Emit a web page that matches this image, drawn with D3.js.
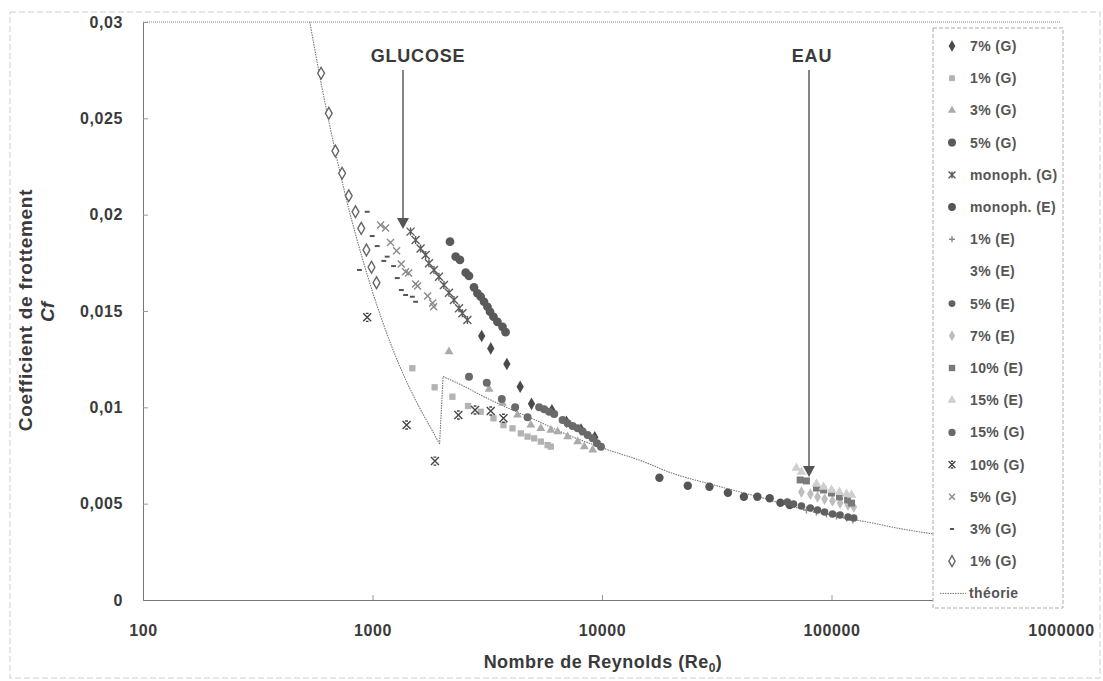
<!DOCTYPE html>
<html><head><meta charset="utf-8">
<script src="https://cdn.jsdelivr.net/npm/d3@7"></script>
<style>
body{margin:0;background:#fff;}
text{font-family:"Liberation Sans",Arial,sans-serif;font-weight:bold;}
</style></head>
<body><svg id="c" width="1103" height="681"></svg>
<script>
// ---------- data: [Reynolds, Cf] ----------
const xTicks = [100, 1000, 10000, 100000, 1000000];
const yTicks = [0, 0.005, 0.01, 0.015, 0.02, 0.025, 0.03];

const g7 = [[2990,0.0137],[3275,0.01306],[3850,0.01225],[4400,0.01107],[4930,0.01018],[6050,0.00985],[7000,0.00925],[8100,0.00885],[9300,0.00845]];
const g1sq = [[1491,0.01203],[1865,0.01104],[2229,0.01055],[2608,0.01007],[2962,0.00977],[3366,0.00943],[3721,0.00908],[4074,0.00891],[4429,0.00865],[4738,0.00848],[5063,0.00839],[5414,0.00822],[5794,0.00804],[5987,0.00796]];
const g3tri = [[2154,0.01289],[3220,0.01094],[3685,0.01021],[4284,0.0096],[4898,0.00908],[5414,0.00891],[5987,0.00882],[6408,0.00874],[7085,0.00848],[7833,0.00822],[8371,0.00796],[9108,0.00779]];
const g5 = [[2176,0.0186],[2304,0.01782],[2405,0.01765],[2548,0.01699],[2633,0.01682],[2769,0.01623],[2866,0.01592],[2962,0.01574],[3062,0.01548],[3169,0.01522],[3252,0.01496],[3366,0.0147],[3503,0.01444],[3685,0.01418],[3800,0.0139]];
const monoG = [[1465,0.01912],[1541,0.01869],[1620,0.01825],[1704,0.01791],[1762,0.01748],[1853,0.01713],[1948,0.01678],[2048,0.01635],[2154,0.01595],[2265,0.01557],[2382,0.01514],[2465,0.01488],[2591,0.01453]];
const monoE = [[17790,0.00635],[23650,0.00593],[29390,0.00588],[35370,0.00557],[41530,0.00536],[47530,0.00536],[53790,0.00528],[59890,0.00505],[65760,0.00493]];
const e1 = [[77780,0.00467],[86000,0.00457],[95100,0.00446],[105150,0.00436],[116300,0.00426],[124000,0.00415]];
const e3 = [[76000,0.00530],[88000,0.00510],[100000,0.00490],[112000,0.00475]];
const e5 = [[64200,0.00509],[68300,0.00498],[73960,0.00488],[80900,0.00477],[86900,0.00467],[93300,0.00457],[101000,0.00446],[109000,0.00441],[118000,0.00431],[125000,0.00426]];
const e7 = [[73960,0.0056],[80900,0.0055],[86900,0.00535],[93300,0.00524],[101000,0.00514],[109000,0.00503],[118000,0.00493],[125000,0.00483]];
const e10 = [[73000,0.00623],[77780,0.00618],[86000,0.00581],[92300,0.00571],[100000,0.00555],[108300,0.00535],[117500,0.00519],[122300,0.00503]];
const e15 = [[70300,0.00685],[73960,0.00664],[86000,0.00602],[92300,0.00586],[100000,0.00571],[108300,0.0056],[116300,0.0055],[122300,0.00545]];
const g15 = [[2633,0.01159],[3147,0.01128],[3659,0.01043],[4182,0.0100],[4738,0.00948],[5323,0.0100],[5598,0.0099],[5888,0.00977],[6190,0.00965],[6738,0.00934],[7085,0.00917],[7449,0.00903],[7833,0.00891],[8237,0.00874],[8660,0.00856],[9108,0.00839],[9511,0.00813],[9900,0.00796]];
const g10 = [[948,0.01467],[1408,0.00908],[1871,0.00721],[2367,0.0096],[2797,0.00986],[3275,0.00981],[3721,0.00943]];
const g5x = [[1084,0.01946],[1140,0.01931],[1198,0.01855],[1273,0.01813],[1335,0.01744],[1394,0.01704],[1437,0.01697],[1541,0.0164],[1572,0.0163],[1739,0.01578],[1828,0.01541],[1847,0.01522]];
const g3dash = [[948,0.02015],[997,0.01889],[1048,0.01837],[1120,0.01760],[1159,0.01782],[1235,0.01733],[1282,0.01671],[877,0.01713],[1335,0.01609],[1394,0.01583],[1491,0.01574],[1541,0.01548]];
const g1dia = [[597,0.02734],[645,0.02526],[689,0.0233],[737,0.02215],[788,0.02098],[843,0.02015],[893,0.01929],[941,0.01817],[990,0.01727],[1041,0.01647]];

const theoryLam = [[533,0.030],[600,0.0267],[700,0.0229],[800,0.0200],[900,0.0178],[1000,0.0160],[1200,0.0133],[1400,0.0114],[1600,0.0100],[1800,0.0089],[1960,0.0081]];
const theoryTurb = [[2030,0.0116],[2500,0.0111],[3000,0.0106],[4000,0.0099],[5000,0.0094],[7000,0.0086],[10000,0.0079],[15000,0.0072],[20000,0.0066],[30000,0.0060],[50000,0.0053],[70000,0.0048],[100000,0.0044],[150000,0.0040],[200000,0.0037],[290000,0.0034]];

const series = [
  {name:"7% (G)", data:g7, sym:"diamond", fill:"#4a4a4a", stroke:"none", size:46},
  {name:"1% (G)", data:g1sq, sym:"square", fill:"#b3b3b3", stroke:"none", size:40},
  {name:"3% (G)", data:g3tri, sym:"triangle", fill:"#aaaaaa", stroke:"none", size:34},
  {name:"5% (G)", data:g5, sym:"circle", fill:"#5a5a5a", stroke:"none", size:60},
  {name:"monoph. (G)", data:monoG, sym:"star", fill:"none", stroke:"#5c5c5c", size:8},
  {name:"monoph. (E)", data:monoE, sym:"circle", fill:"#555555", stroke:"none", size:56},
  {name:"1% (E)", data:e1, sym:"plus", fill:"none", stroke:"#888", size:7},
  {name:"3% (E)", data:e3, sym:"none", fill:"none", stroke:"none", size:0},
  {name:"5% (E)", data:e5, sym:"circle", fill:"#606060", stroke:"none", size:44},
  {name:"7% (E)", data:e7, sym:"diamond", fill:"#bdbdbd", stroke:"none", size:40},
  {name:"10% (E)", data:e10, sym:"square", fill:"#7a7a7a", stroke:"none", size:48},
  {name:"15% (E)", data:e15, sym:"triangle", fill:"#cfcfcf", stroke:"none", size:40},
  {name:"15% (G)", data:g15, sym:"circle", fill:"#6a6a6a", stroke:"none", size:50},
  {name:"10% (G)", data:g10, sym:"xbar", fill:"none", stroke:"#444", size:8},
  {name:"5% (G)", data:g5x, sym:"cross", fill:"none", stroke:"#8a8a8a", size:7},
  {name:"3% (G)", data:g3dash, sym:"dash", fill:"none", stroke:"#555", size:7},
  {name:"1% (G)", data:g1dia, sym:"odiamond", fill:"#fff", stroke:"#666", size:40}
];

// ---------- layout ----------
const svg = d3.select("#c");
const x = d3.scaleLog().domain([100, 1000000]).range([143, 1061]);
const y = d3.scaleLinear().domain([0, 0.03]).range([600, 22]);
const TXT = "#3a3a3a";

// outer faint dashed border
svg.append("rect").attr("x",10).attr("y",12).attr("width",1090).attr("height",666)
  .attr("fill","none").attr("stroke","#cfcfcf").attr("stroke-dasharray","6,3").attr("stroke-width",1);

// top plot border (dotted)
svg.append("line").attr("x1",143).attr("x2",1061).attr("y1",y(0.03)).attr("y2",y(0.03))
  .attr("stroke","#888").attr("stroke-dasharray","1,1");

const fmtY = d => d === 0 ? "0" : String(d).replace(".", ",");
const yAxis = svg.append("g").attr("transform","translate(143,0)")
  .call(d3.axisLeft(y).tickValues(yTicks).tickFormat(fmtY).tickSizeInner(-5).tickSizeOuter(0).tickPadding(20));
const xAxis = svg.append("g").attr("transform","translate(0,600)")
  .call(d3.axisBottom(x).tickValues(xTicks).tickFormat(d3.format("d")).tickSizeInner(-5).tickSizeOuter(0).tickPadding(25));
[yAxis, xAxis].forEach(a => {
  a.select(".domain").attr("stroke","#777");
  a.selectAll(".tick line").attr("stroke","#999");
  a.selectAll(".tick text").attr("fill",TXT).style("font-size","16px").style("font-weight","bold")
    .style("letter-spacing","0.6px").style("font-family","'Liberation Sans',Arial,sans-serif");
});
xAxis.selectAll(".tick").filter(d => d === 100 || d === 1000000).select("line").remove();

// axis titles
svg.append("text").attr("transform","translate(32,310) rotate(-90)").attr("text-anchor","middle")
  .attr("fill",TXT).style("font-size","19px").style("letter-spacing","0.7px").text("Coefficient de frottement");
svg.append("text").attr("transform","translate(54,312) rotate(-90)").attr("text-anchor","middle")
  .attr("fill",TXT).style("font-size","19px").style("font-style","italic").text("Cf");
const xt = svg.append("text").attr("x",603).attr("y",668).attr("text-anchor","middle")
  .attr("fill",TXT).style("font-size","18px").style("letter-spacing","0.5px");
xt.append("tspan").text("Nombre de Reynolds (Re");
xt.append("tspan").attr("dy",4).style("font-size","12px").text("0");
xt.append("tspan").attr("dy",-4).text(")");

// theory curve
const line = d3.line().x(d => x(d[0])).y(d => y(d[1])).curve(d3.curveMonotoneX);
const thG = svg.append("g").attr("fill","none").attr("stroke","#777").attr("stroke-width",1.1).attr("stroke-dasharray","1.5,1");
thG.append("path").attr("d", line(theoryLam));
thG.append("path").attr("d", d3.line().x(d => x(d[0])).y(d => y(d[1]))([theoryLam[theoryLam.length-1], theoryTurb[0]]));
thG.append("path").attr("d", line(theoryTurb));

// marker drawing
function drawMarker(g, s, cx, cy, scale) {
  const k = scale || 1;
  if (s.sym === "none") return;
  if (["diamond","square","triangle","circle","odiamond"].includes(s.sym)) {
    const t = {diamond:d3.symbolDiamond, odiamond:d3.symbolDiamond, square:d3.symbolSquare, triangle:d3.symbolTriangle, circle:d3.symbolCircle}[s.sym];
    g.append("path").attr("d", d3.symbol(t, s.size * k)()).attr("transform",`translate(${cx},${cy})`)
      .attr("fill", s.fill).attr("stroke", s.sym === "odiamond" ? s.stroke : "none").attr("stroke-width",1.4);
    return;
  }
  const h = s.size / 2 * k;
  let d = "";
  if (s.sym === "star") d = `M${-h},${-h}L${h},${h}M${-h},${h}L${h},${-h}M0,${-h}L0,${h}`;
  if (s.sym === "xbar") d = `M${-h},${-h}L${h},${h}M${-h},${h}L${h},${-h}M${-h*0.35},${-h}L${h*0.35},${-h}M${-h*0.35},${h}L${h*0.35},${h}`;
  if (s.sym === "plus") d = `M${-h},0L${h},0M0,${-h}L0,${h}`;
  if (s.sym === "cross") d = `M${-h},${-h}L${h},${h}M${-h},${h}L${h},${-h}`;
  if (s.sym === "dash") d = `M${-h*0.7},0L${h*0.7},0`;
  g.append("path").attr("d", d).attr("transform",`translate(${cx},${cy})`)
    .attr("fill","none").attr("stroke", s.stroke).attr("stroke-width", s.sym === "dash" ? 2 : 1.4);
}

const pts = svg.append("g");
series.forEach(s => {
  const g = pts.append("g");
  s.data.forEach(d => drawMarker(g, s, x(d[0]), y(d[1])));
});

// annotations
const ann = svg.append("g");
ann.append("text").attr("x",418).attr("y",62).attr("text-anchor","middle").attr("fill",TXT)
  .style("font-size","18px").style("letter-spacing","0.8px").text("GLUCOSE");
ann.append("text").attr("x",812).attr("y",62).attr("text-anchor","middle").attr("fill",TXT)
  .style("font-size","18px").style("letter-spacing","0.8px").text("EAU");
function arrow(xv, y0, y1) {
  ann.append("line").attr("x1",xv).attr("x2",xv).attr("y1",y0).attr("y2",y1-9).attr("stroke","#666").attr("stroke-width",1.6);
  ann.append("path").attr("d",`M${xv-6},${y1-11}L${xv+6},${y1-11}L${xv},${y1}Z`).attr("fill","#555");
}
arrow(403, 70, 229);
arrow(809, 70, 477);

// legend
const lg = svg.append("g");
lg.append("rect").attr("x",933).attr("y",28).attr("width",130).attr("height",580)
  .attr("fill","#fff").attr("stroke","#aaa").attr("stroke-dasharray","4,2");
const legY = i => 46 + i * 32.2;
series.forEach((s, i) => {
  const g = lg.append("g");
  drawMarker(g, s, 952, legY(i), 0.85);
  g.append("text").attr("x",970).attr("y",legY(i)+5).attr("fill","#555").style("font-size","14px")
    .style("letter-spacing","0.4px").text(s.name);
});
const ty = legY(series.length);
lg.append("line").attr("x1",940).attr("x2",966).attr("y1",ty).attr("y2",ty).attr("stroke","#777").attr("stroke-dasharray","1.5,1");
lg.append("text").attr("x",969).attr("y",ty+5).attr("fill","#555").style("font-size","14px").style("letter-spacing","0.4px").text("théorie");
</script></body></html>
